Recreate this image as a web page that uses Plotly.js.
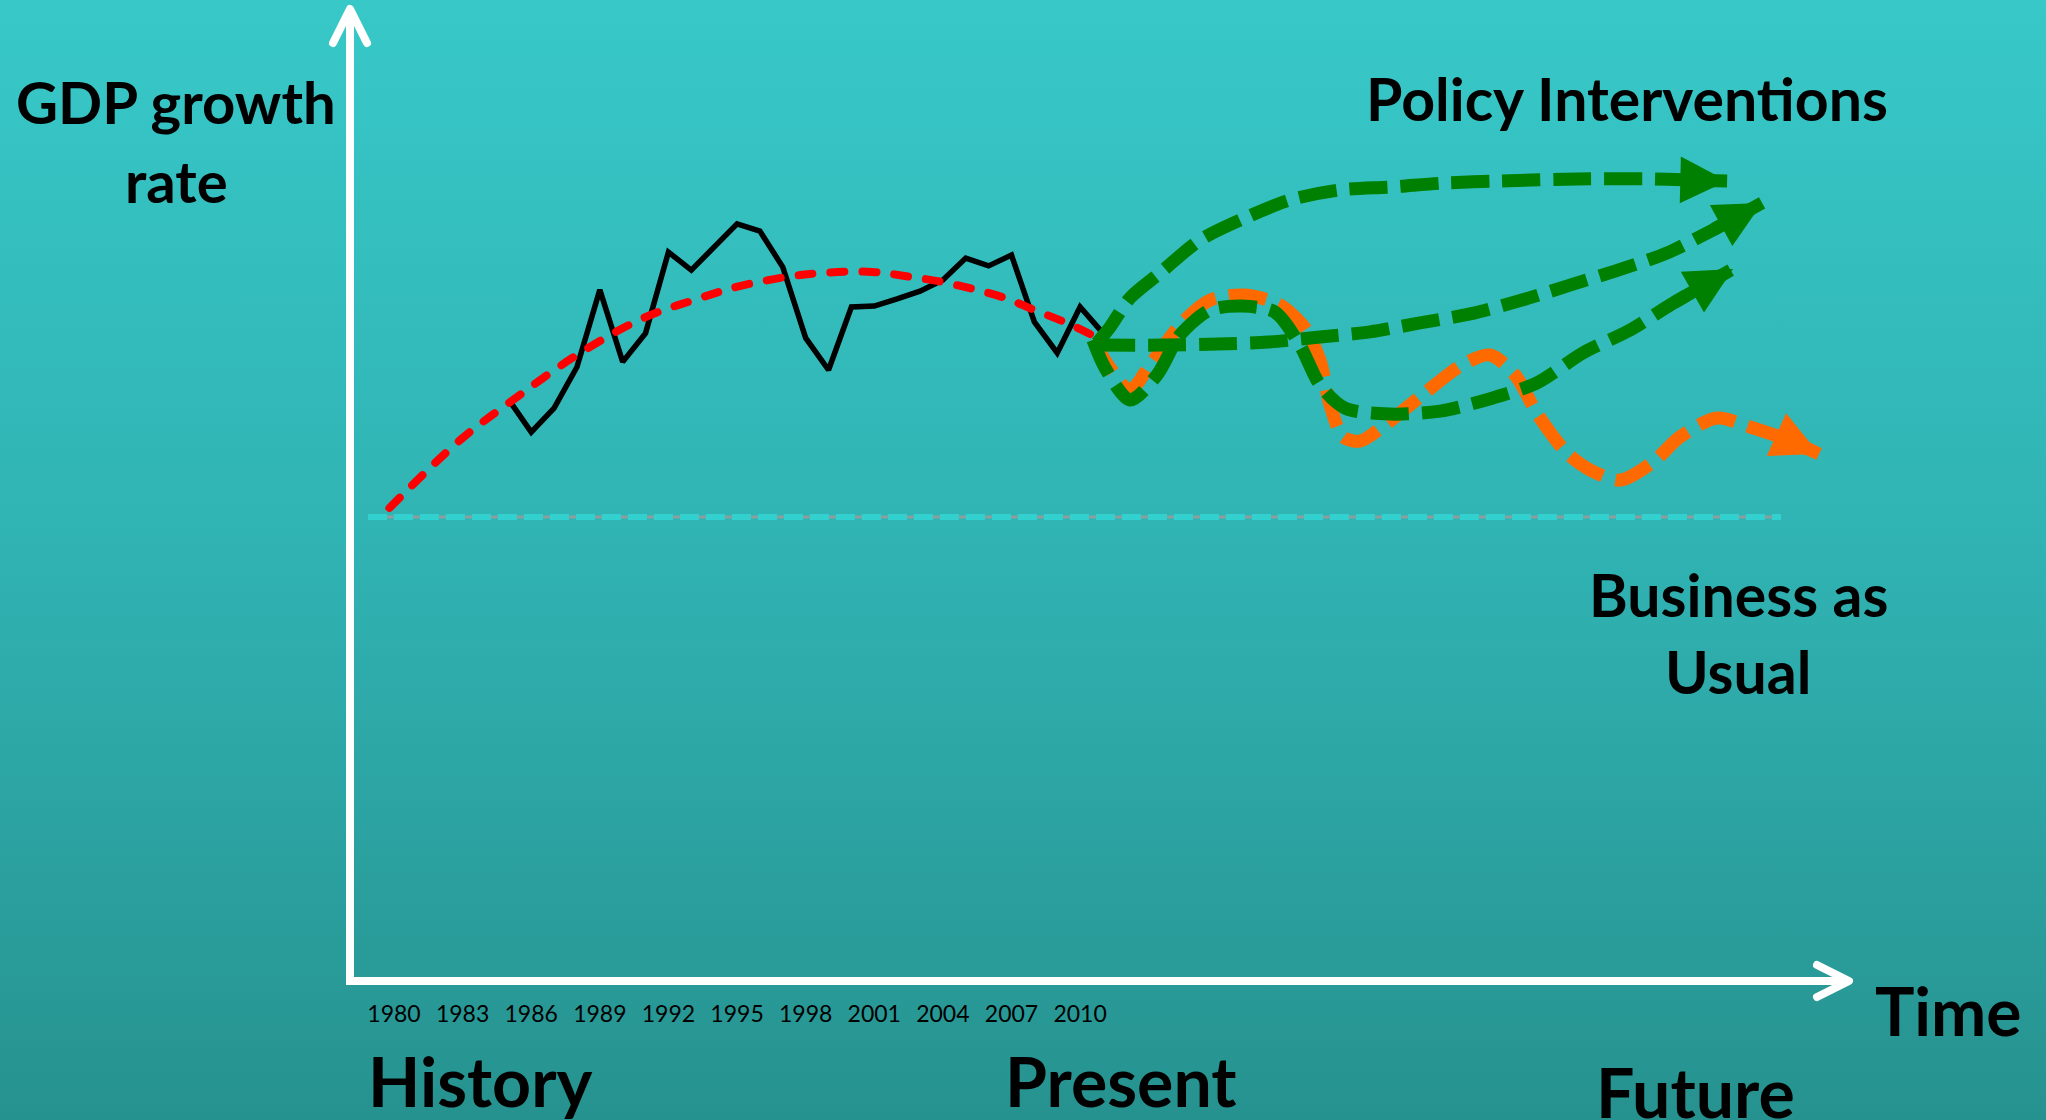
<!DOCTYPE html>
<html>
<head>
<meta charset="utf-8">
<script src="https://cdn.plot.ly/plotly-3.0.1.min.js"></script>
<style>
  html, body { margin: 0; padding: 0; }
  body { background: linear-gradient(to bottom, #38c8c8 0%, #30b2b2 50%, #26928f 100%); }
  #chart { width: 2046px; height: 1120px; }
  .shapelayer path { stroke-linecap: round; stroke-linejoin: round; }
  .tracetrend .js-line { stroke-linecap: round; }
</style>
</head>
<body>
<div id="chart"></div>
<script>
// GDP growth: history, trend and future scenarios (arbitrary growth units, 0 = baseline)

const TICK_YEARS = [1980, 1983, 1986, 1989, 1992, 1995, 1998, 2001, 2004, 2007, 2010];

// observed growth, yearly
const HIST_YEARS = [1985, 1986, 1987, 1988, 1989, 1990, 1991, 1992, 1993, 1994, 1995, 1996, 1997, 1998,
  1999, 2000, 2001, 2002, 2003, 2004, 2005, 2006, 2007, 2008, 2009, 2010, 2011];
const HIST_GROWTH = [3.93, 2.83, 3.63, 5.0, 7.57, 5.17, 6.13, 8.83, 8.23, 9.0, 9.77, 9.53, 8.33, 5.97,
  4.9, 7.0, 7.03, 7.27, 7.53, 7.9, 8.63, 8.37, 8.73, 6.5, 5.47, 7.0, 6.13];

// smoothed trend (red dashed)
const TREND_YEARS = [1979.8, 1982.9, 1985.2, 1988.0, 1990.9, 1993.1, 1995.3, 1998.2, 2000.9, 2002.6, 2004.0, 2006.6, 2007.9, 2009.4, 2010.7];
const TREND_GROWTH = [0.3, 2.57, 3.9, 5.4, 6.63, 7.23, 7.73, 8.1, 8.17, 8.0, 7.83, 7.33, 6.93, 6.47, 6.0];

// baseline
const BASE_YEARS = [1978.86, 2040.65];
const BASE_GROWTH = [0, 0];

// policy scenarios (green)
const POL1_YEARS = [2010.74, 2011.31, 2012.18, 2013.49, 2015.24, 2017.21, 2019.18, 2021.36, 2023.64, 2025.87, 2028.36, 2031.73, 2034.92, 2036.67, 2038.29];
const POL1_GROWTH = [5.8, 6.33, 7.3, 8.13, 9.23, 9.97, 10.57, 10.9, 11.0, 11.13, 11.2, 11.27, 11.27, 11.23, 11.2];
const POL2_YEARS = [2010.74, 2013.62, 2016.03, 2018.22, 2020.49, 2022.68, 2024.86, 2027.05, 2029.32, 2031.42, 2033.52, 2035.66, 2037.67, 2039.82];
const POL2_GROWTH = [5.73, 5.73, 5.77, 5.83, 6.0, 6.17, 6.47, 6.77, 7.23, 7.73, 8.23, 8.8, 9.57, 10.47];
const POL3_YEARS = [2010.56, 2011.09, 2012.18, 2013.36, 2014.37, 2015.68, 2017.08, 2018.52, 2019.61, 2020.49, 2021.58, 2023.55, 2025.74, 2028.05, 2029.98, 2031.99, 2034.04, 2035.93, 2038.55];
const POL3_GROWTH = [5.9, 4.97, 3.9, 4.73, 6.07, 6.9, 7.03, 6.83, 5.73, 4.4, 3.63, 3.43, 3.53, 3.97, 4.47, 5.47, 6.23, 7.13, 8.27];

// business as usual (orange)
const BAU_YEARS = [2010.56, 2011.31, 2012.18, 2013.06, 2014.37, 2015.68, 2017.21, 2018.74, 2019.83, 2020.49, 2020.93, 2021.5, 2022.24, 2023.33,
  2024.86, 2026.7, 2027.92, 2029.02, 2030.02, 2031.29, 2032.3, 2033.61, 2035.05, 2036.23, 2037.85, 2039.29, 2040.95, 2042.31];
const BAU_GROWTH = [5.9, 4.97, 4.23, 5.07, 6.4, 7.23, 7.4, 7.07, 6.3, 5.23, 3.73, 2.67, 2.53, 3.07,
  4.0, 5.07, 5.4, 4.73, 3.4, 2.13, 1.57, 1.23, 1.83, 2.67, 3.3, 3.0, 2.57, 2.1];

const GREEN = '#008000', ORANGE = '#ff6a00';

// page geometry
const W = 2046, H = 1120, L = 354, R = 197, T = 9, B = 143;
const PW = W - L - R, PH = H - T - B;
const pxX = x => (x - L) / PW;
const pxY = y => (H - B - y) / PH;

const futureLine = (xs, ys, color) => ({
  x: xs, y: ys, type: 'scatter', mode: 'lines', hoverinfo: 'skip',
  line: { color, width: 13, dash: '38px,13px', shape: 'spline', smoothing: 0.8 },
});

const traces = [
  { x: BASE_YEARS, y: BASE_GROWTH, type: 'scatter', mode: 'lines', line: { color: '#8d9e9e', width: 3 } },
  { x: BASE_YEARS, y: BASE_GROWTH, type: 'scatter', mode: 'lines', line: { color: '#33d0d0', width: 6, dash: '19px,7px' } },
  { x: HIST_YEARS, y: HIST_GROWTH, type: 'scatter', mode: 'lines', line: { color: '#000', width: 5.5 } },
  { x: TREND_YEARS, y: TREND_GROWTH, type: 'scatter', mode: 'lines', uid: 'trend',
    line: { color: '#ff0000', width: 8, dash: '14px,18px', shape: 'spline', smoothing: 1 } },
  futureLine(BAU_YEARS, BAU_GROWTH, ORANGE),
  futureLine(POL3_YEARS, POL3_GROWTH, GREEN),
  futureLine(POL2_YEARS, POL2_GROWTH, GREEN),
  futureLine(POL1_YEARS, POL1_GROWTH, GREEN),
];

// arrowheads at the end of each scenario line
const arrowHead = (xs, ys, color) => {
  const n = xs.length;
  return {
    x: xs[n - 1], y: ys[n - 1], ax: xs[n - 2], ay: ys[n - 2], xref: 'x', yref: 'y', axref: 'x', ayref: 'y',
    text: '', showarrow: true, arrowhead: 2, arrowsize: 0.72, arrowwidth: 13, arrowcolor: color, standoff: 0,
  };
};

const label = (text, x, y, size) => ({
  text, x: pxX(x), y: pxY(y), xref: 'paper', yref: 'paper', showarrow: false,
  xanchor: 'center', yanchor: 'middle',
  font: { family: 'Lato, sans-serif', size, color: '#000', weight: 700 },
});

const annotations = [
  arrowHead(BAU_YEARS, BAU_GROWTH, ORANGE),
  arrowHead(POL1_YEARS, POL1_GROWTH, GREEN),
  arrowHead(POL2_YEARS, POL2_GROWTH, GREEN),
  arrowHead(POL3_YEARS, POL3_GROWTH, GREEN),
  label('GDP growth', 176, 102, 58),
  label('rate', 176, 180, 58),
  label('Policy Interventions', 1627, 99, 59),
  label('Business as', 1738, 595, 59),
  label('Usual', 1738, 671, 59),
  label('Time', 1948, 1010, 66),
  label('History', 480, 1080, 68),
  label('Present', 1121, 1080, 68),
  label('Future', 1695, 1091, 68),
];

const chevron = (x, y, path) => ({
  type: 'path', xref: 'paper', yref: 'paper', xsizemode: 'pixel', ysizemode: 'pixel',
  xanchor: pxX(x), yanchor: pxY(y), path, line: { color: '#fff', width: 8 }, layer: 'above',
});

const layout = {
  width: W, height: H,
  margin: { l: L, r: R, t: T, b: B },
  paper_bgcolor: 'rgba(0,0,0,0)', plot_bgcolor: 'rgba(0,0,0,0)',
  showlegend: false,
  xaxis: {
    range: [1978.251, 2043.62], showgrid: false, zeroline: false,
    showline: true, linecolor: '#fff', linewidth: 8,
    tickmode: 'array', tickvals: TICK_YEARS, ticktext: TICK_YEARS.map(String),
    ticks: '', ticklabelstandoff: 9,
    tickfont: { family: 'Lato, sans-serif', size: 23, color: '#000' },
  },
  yaxis: {
    range: [-15.333, 16.933], showgrid: false, zeroline: false, showticklabels: false,
    showline: true, linecolor: '#fff', linewidth: 8, ticks: '',
  },
  shapes: [
    chevron(350, 9, 'M-17,-34 L0,0 L17,-34'),
    chevron(1849, 981, 'M-32,16 L0,0 L-32,-16'),
  ],
  annotations,
};

Plotly.newPlot('chart', traces, layout, { displayModeBar: false, staticPlot: true });
</script>
</body>
</html>
